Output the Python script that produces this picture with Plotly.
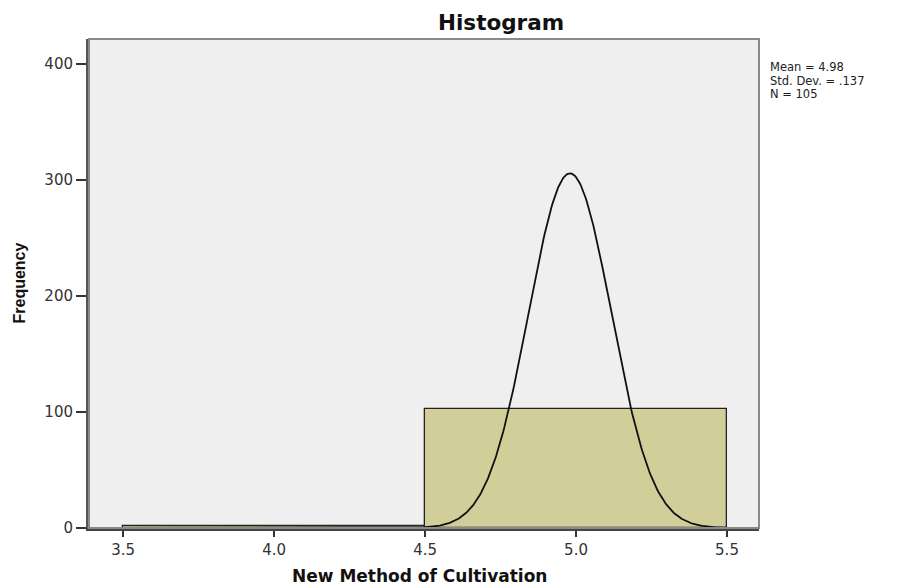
import numpy as np
import plotly.graph_objects as go

# Data
bin_starts = [3.5, 4.5]
bin_ends = [4.5, 5.5]
frequencies = [2, 103]
mean_val = 4.98
sd_val = 0.137
n_val = 105
x_ticks = [3.5, 4.0, 4.5, 5.0, 5.5]
x_tick_labels = ["3.5", "4.0", "4.5", "5.0", "5.5"]
y_ticks = [0, 100, 200, 300, 400]
stat_lines = ["Mean = 4.98", "Std. Dev. = .137", "N = 105"]

bin_width = bin_ends[0] - bin_starts[0]
centers = [(a + b) / 2 for a, b in zip(bin_starts, bin_ends)]
widths = [b - a for a, b in zip(bin_starts, bin_ends)]

# Normal curve drawn from the stated mean, sd and N (as SPSS does)
xs = np.linspace(bin_starts[0], bin_ends[-1], 600)
ys = n_val * bin_width / (sd_val * np.sqrt(2 * np.pi)) * np.exp(-0.5 * ((xs - mean_val) / sd_val) ** 2)

fig = go.Figure()
fig.add_trace(go.Bar(
    x=centers, y=frequencies, width=widths,
    marker=dict(color="#d2ce99", line=dict(color="#222222", width=1.3)),
    showlegend=False, hoverinfo="skip",
))
fig.add_trace(go.Scatter(
    x=xs, y=ys, mode="lines", line=dict(color="#111111", width=1.8),
    showlegend=False, hoverinfo="skip",
))

font_family = "DejaVu Sans, Verdana, sans-serif"
fig.update_layout(
    width=890, height=579,
    margin=dict(l=81, r=139, t=31, b=59),
    paper_bgcolor="white", plot_bgcolor="#efefef",
    bargap=0,
    font=dict(family=font_family, size=14, color="#222222"),
    xaxis=dict(
        range=[3.387, 5.606], tickvals=x_ticks, ticktext=x_tick_labels,
        ticks="outside", ticklen=6, tickwidth=2, tickcolor="#333333",
        showgrid=False, zeroline=False,
        showline=True, linecolor="#444444", linewidth=3, mirror=False,
        tickfont=dict(size=15, color="#333333", family=font_family),
    ),
    yaxis=dict(
        range=[0, 421.6], tickvals=y_ticks,
        ticks="outside", ticklen=10, tickwidth=2, tickcolor="#333333",
        showgrid=False, zeroline=False,
        showline=True, linecolor="#555555", linewidth=3, mirror=False,
        tickfont=dict(size=15, color="#333333", family=font_family),
    ),
    shapes=[dict(type="rect", xref="paper", yref="paper", x0=0, x1=1, y0=0, y1=1,
                 line=dict(color="#8a8a8a", width=2), layer="above")],
)

annotations = [
    dict(text="<b>Histogram</b>", xref="paper", yref="paper", x=(501 - 89) / 670, y=1,
         xanchor="center", yanchor="middle", yshift=16.5, showarrow=False,
         font=dict(size=21.5, family=font_family, color="#111111")),
    dict(text="<b>New Method of Cultivation</b>", xref="paper", yref="paper",
         x=(419 - 89) / 670, y=0, xanchor="center", yanchor="middle", yshift=-48,
         showarrow=False, font=dict(size=17, family=font_family, color="#111111")),
    dict(text="<b>Frequency</b>", xref="paper", yref="paper", x=0, y=(528 - 283) / 489,
         xanchor="center", yanchor="middle", xshift=-70.5, textangle=-90, showarrow=False,
         font=dict(size=16, family="Liberation Sans, Arial, sans-serif", color="#111111")),
]
for i, s in enumerate(stat_lines):
    annotations.append(dict(text=s, xref="paper", yref="paper", x=1, xshift=10,
                            y=(528 - (67 + 13.5 * i)) / 489, xanchor="left", yanchor="middle",
                            showarrow=False, borderpad=0,
                            font=dict(size=11.5, family=font_family, color="#222222")))
fig.update_layout(annotations=annotations)

fig.write_html("out.html")
